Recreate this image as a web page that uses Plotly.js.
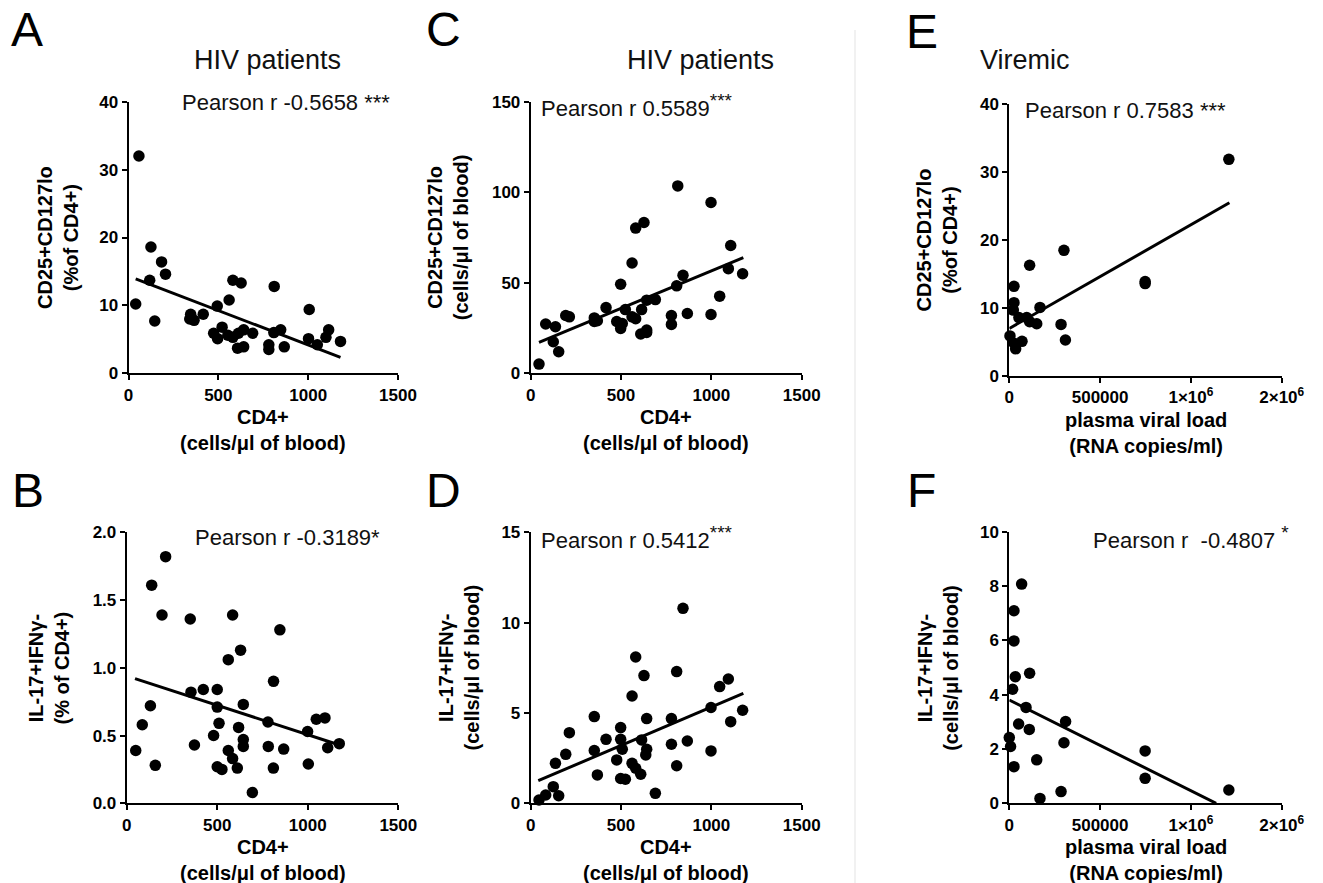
<!DOCTYPE html>
<html>
<head>
<meta charset="utf-8">
<script src="https://cdn.plot.ly/plotly-3.0.1.min.js"></script>
<style>
  html, body { margin: 0; padding: 0; background: #fff; }
  #chart { width: 1323px; height: 883px; }
</style>
</head>
<body>
<div id="chart"></div>
<script>
// ---- Data: HIV patients (CD4+ count) ----
const cd4A = [58, 40, 125, 118, 146, 184, 206, 346, 341, 365, 416, 494, 474, 496, 521, 560, 553, 581, 581, 627, 612, 641, 607, 641, 691, 781, 781, 811, 809, 847, 867, 1006, 1002, 1051, 1099, 1114, 1180];
const tregPctA = [32.0, 10.2, 18.6, 13.7, 7.7, 16.4, 14.6, 8.7, 8.0, 7.8, 8.7, 9.9, 5.9, 5.1, 6.8, 10.8, 5.6, 13.7, 5.3, 13.3, 5.9, 6.4, 3.7, 3.9, 5.9, 4.2, 3.5, 12.8, 6.0, 6.4, 3.9, 9.4, 5.1, 4.2, 5.3, 6.4, 4.7];

const cd4B = [50, 86, 131, 138, 158, 195, 215, 351, 355, 374, 423, 480, 500, 500, 500, 510, 526, 561, 561, 585, 585, 611, 618, 629, 644, 644, 644, 694, 780, 782, 811, 810, 846, 867, 999, 1003, 1047, 1095, 1110, 1174];
const th17PctB = [0.39, 0.58, 0.72, 1.61, 0.28, 1.39, 1.82, 1.36, 0.82, 0.43, 0.84, 0.50, 0.84, 0.71, 0.27, 0.59, 0.25, 1.06, 0.39, 1.39, 0.33, 0.26, 0.56, 1.13, 0.73, 0.47, 0.42, 0.08, 0.60, 0.42, 0.90, 0.26, 1.28, 0.40, 0.53, 0.29, 0.62, 0.63, 0.41, 0.44];

const cd4C = [46, 83, 137, 125, 155, 194, 214, 352, 352, 369, 417, 476, 498, 507, 498, 524, 561, 561, 581, 581, 614, 627, 609, 642, 642, 642, 690, 779, 779, 808, 814, 843, 867, 998, 998, 1046, 1094, 1107, 1173];
const tregAbsC = [5.1, 27.2, 25.7, 17.4, 11.9, 31.9, 31.2, 30.6, 28.6, 29.0, 36.3, 28.6, 49.2, 27.5, 24.8, 35.2, 60.9, 31.2, 80.2, 30.1, 35.2, 83.3, 21.7, 23.9, 22.6, 40.4, 40.7, 31.9, 27.0, 48.3, 103.5, 54.1, 33.0, 94.3, 32.5, 42.6, 57.8, 70.6, 55.0];

const cd4D = [46, 83, 125, 137, 155, 194, 214, 352, 352, 369, 417, 476, 498, 498, 507, 498, 524, 561, 561, 581, 581, 609, 614, 627, 642, 642, 637, 690, 779, 779, 808, 808, 843, 867, 998, 998, 1046, 1094, 1107, 1173];
const th17AbsD = [0.18, 0.46, 0.92, 2.21, 0.42, 2.71, 3.91, 4.80, 2.92, 1.57, 3.54, 2.40, 4.19, 3.54, 2.99, 1.37, 1.33, 5.94, 2.21, 8.10, 1.94, 1.61, 3.51, 7.07, 4.69, 2.99, 2.68, 0.55, 4.69, 3.27, 7.29, 2.08, 10.79, 3.45, 5.30, 2.90, 6.46, 6.88, 4.52, 5.15];

// ---- Data: viremic patients (plasma viral load) ----
const vlE = [3700, 22000, 25700, 25700, 27600, 35000, 53000, 70000, 96000, 112000, 112000, 151000, 169000, 285000, 301000, 309000, 748000, 748000, 1209000];
const tregPctE = [5.9, 9.7, 10.8, 13.2, 4.8, 4.0, 8.6, 5.1, 8.6, 16.3, 8.0, 7.7, 10.1, 7.6, 18.5, 5.3, 13.6, 13.9, 31.9];

const vlF = [0, 7000, 18400, 25700, 25700, 25700, 33000, 51500, 68000, 92000, 110000, 112000, 151000, 169000, 285000, 301000, 310000, 748000, 748000, 1209000];
const th17AbsF = [2.42, 2.09, 4.20, 7.09, 5.98, 1.35, 4.66, 2.92, 8.07, 3.53, 2.72, 4.79, 1.60, 0.18, 0.43, 2.23, 3.01, 1.93, 0.92, 0.49];

// ---- Linear regression lines (end points) ----
const fitA = { x: [40, 1180], y: [13.9, 2.35] };
const fitB = { x: [46, 1175], y: [0.92, 0.43] };
const fitC = { x: [46, 1177], y: [17.1, 63.9] };
const fitD = { x: [42, 1177], y: [1.25, 6.09] };
const fitE = { x: [0, 1212000], y: [7.0, 25.5] };
const fitF = { x: [0, 1139000], y: [3.8, 0] };

// ---- Tick values and labels ----
const cd4Ticks = [0, 500, 1000, 1500];
const cd4TickText = ['0', '500', '1000', '1500'];
const vlTicks = [0, 500000, 1000000, 1500000];
const vlTickText = ['0', '500000', '1×10<sup>6</sup>', '2×10<sup>6</sup>'];
const tregPctTicks = [0, 10, 20, 30, 40];
const th17PctTicks = [0, 0.5, 1.0, 1.5, 2.0];
const th17PctTickText = ['0.0', '0.5', '1.0', '1.5', '2.0'];
const tregAbsTicks = [0, 50, 100, 150];
const th17AbsTicks = [0, 5, 10, 15];
const th17AbsFTicks = [0, 2, 4, 6, 8, 10];

// ---- Text ----
const pearsonLabels = {
  A: 'Pearson r -0.5658 ***',
  B: 'Pearson r -0.3189*',
  C: 'Pearson r 0.5589<sup><span style="font-size:19px">***</span></sup>',
  D: 'Pearson r 0.5412<sup><span style="font-size:19px">***</span></sup>',
  E: 'Pearson r 0.7583 ***',
  F: 'Pearson r  -0.4807 <sup><span style="font-size:19px">*</span></sup>'
};
const cd4Title = ['CD4+', '(cells/μl of blood)'];
const vlTitle = ['plasma viral load', '(RNA copies/ml)'];
const tregPctTitle = ['CD25+CD127lo', '(%of CD4+)'];
const tregAbsTitle = ['CD25+CD127lo', '(cells/μl of blood)'];
const th17PctTitle = ['IL-17+IFNγ-', '(% of CD4+)'];
const th17AbsTitle = ['IL-17+IFNγ-', '(cells/μl of blood)'];

// ---- Layout helpers (pixel -> paper) ----
const W = 1323, H = 883;
const FONT = 'Liberation Sans';
const px = v => v / W;
const py = v => 1 - v / H;
const twoLines = lines => lines.join('<br>');

// panel boxes in pixels: [left, right, top, bottom]
const panels = [
  { key: 'A', box: [128.5, 398, 101.7, 373.3], x: cd4A, y: tregPctA, fit: fitA, xr: [0, 1500], yr: [0, 40],
    xt: cd4Ticks, xtt: cd4TickText, yt: tregPctTicks, ytt: tregPctTicks.map(String),
    xTitle: cd4Title, yTitle: tregPctTitle, yTitleOff: 70, pear: [180, 103] },
  { key: 'B', box: [126.7, 398.3, 532.3, 803.3], x: cd4B, y: th17PctB, fit: fitB, xr: [0, 1500], yr: [0, 2],
    xt: cd4Ticks, xtt: cd4TickText, yt: th17PctTicks, ytt: th17PctTickText,
    xTitle: cd4Title, yTitle: th17PctTitle, yTitleOff: 78, pear: [193, 537] },
  { key: 'C', box: [530.7, 801.7, 101.7, 373.3], x: cd4C, y: tregAbsC, fit: fitC, xr: [0, 1500], yr: [0, 150],
    xt: cd4Ticks, xtt: cd4TickText, yt: tregAbsTicks, ytt: tregAbsTicks.map(String),
    xTitle: cd4Title, yTitle: tregAbsTitle, yTitleOff: 82, pear: [539, 105] },
  { key: 'D', box: [530.7, 801.7, 532.3, 803.3], x: cd4D, y: th17AbsD, fit: fitD, xr: [0, 1500], yr: [0, 15],
    xt: cd4Ticks, xtt: cd4TickText, yt: th17AbsTicks, ytt: th17AbsTicks.map(String),
    xTitle: cd4Title, yTitle: th17AbsTitle, yTitleOff: 72, pear: [539, 537] },
  { key: 'E', box: [1009.3, 1281.7, 104.3, 376], x: vlE, y: tregPctE, fit: fitE, xr: [0, 1500000], yr: [0, 40],
    xt: vlTicks, xtt: vlTickText, yt: tregPctTicks, ytt: tregPctTicks.map(String),
    xTitle: vlTitle, yTitle: tregPctTitle, yTitleOff: 72, pear: [1023, 110] },
  { key: 'F', box: [1009.3, 1281.7, 531.7, 803.3], x: vlF, y: th17AbsF, fit: fitF, xr: [0, 1500000], yr: [0, 10],
    xt: vlTicks, xtt: vlTickText, yt: th17AbsFTicks, ytt: th17AbsFTicks.map(String),
    xTitle: vlTitle, yTitle: th17AbsTitle, yTitleOff: 72, pear: [1091, 537] }
];

function makeAxis(domain, anchor, range, tickvals, ticktext) {
  return {
    domain: domain, anchor: anchor, range: range,
    showgrid: false, zeroline: false, showline: true, linecolor: '#000', linewidth: 2,
    ticks: 'outside', ticklen: 5, tickwidth: 2, tickcolor: '#000',
    tickmode: 'array', tickvals: tickvals, ticktext: ticktext,
    tickfont: { family: FONT, size: 17, color: '#000', weight: 700 }
  };
}

const traces = [];
const layout = {
  width: W, height: H,
  margin: { l: 0, r: 0, t: 0, b: 0 },
  paper_bgcolor: '#fff', plot_bgcolor: '#fff',
  showlegend: false,
  annotations: [],
  shapes: [
    // thin divider between the two patient groups
    { type: 'line', xref: 'paper', yref: 'paper', x0: px(855), x1: px(855), y0: py(30), y1: py(883),
      line: { color: '#e3e3e3', width: 1 } }
  ]
};

panels.forEach((p, i) => {
  const n = i === 0 ? '' : String(i + 1);
  const xa = 'x' + n, ya = 'y' + n;
  const [l, r, t, b] = p.box;

  layout['xaxis' + n] = makeAxis([px(l), px(r)], ya, p.xr, p.xt, p.xtt);
  layout['yaxis' + n] = makeAxis([py(b), py(t)], xa, p.yr, p.yt, p.ytt);

  // regression line
  traces.push({ type: 'scatter', mode: 'lines', x: p.fit.x, y: p.fit.y, xaxis: xa, yaxis: ya,
    line: { color: '#000', width: 3 }, hoverinfo: 'skip' });
  // patients
  traces.push({ type: 'scatter', mode: 'markers', x: p.x, y: p.y, xaxis: xa, yaxis: ya,
    cliponaxis: false, marker: { color: '#000', size: 11.5, line: { width: 0 } } });

  // Pearson label
  layout.annotations.push({ xref: 'paper', yref: 'paper', x: px(p.pear[0]), y: py(p.pear[1]),
    xanchor: 'left', yanchor: 'middle', showarrow: false, text: pearsonLabels[p.key],
    font: { family: FONT, size: 22, color: '#111' } });
  // x-axis title
  layout.annotations.push({ xref: 'paper', yref: 'paper', x: px((l + r) / 2), y: py(b + 57),
    xanchor: 'center', yanchor: 'middle', showarrow: false, text: twoLines(p.xTitle),
    font: { family: FONT, size: 20, color: '#000', weight: 700 } });
  // y-axis title
  layout.annotations.push({ xref: 'paper', yref: 'paper', x: px(l - p.yTitleOff), y: py((t + b) / 2),
    xanchor: 'center', yanchor: 'middle', showarrow: false, textangle: -90, text: twoLines(p.yTitle),
    font: { family: FONT, size: 20, color: '#000', weight: 700 } });
});

// panel letters
const letters = [['A', 27, 30], ['C', 443, 30], ['E', 922, 32], ['B', 28, 490], ['D', 443, 490], ['F', 921, 490]];
letters.forEach(([txt, x, y]) => layout.annotations.push({ xref: 'paper', yref: 'paper', x: px(x), y: py(y),
  xanchor: 'center', yanchor: 'middle', showarrow: false, text: txt, font: { family: FONT, size: 48, color: '#000' } }));

// group headings
const headings = [['HIV patients', 267, 60], ['HIV patients', 700, 60], ['Viremic', 1025, 60]];
headings.forEach(([txt, x, y]) => layout.annotations.push({ xref: 'paper', yref: 'paper', x: px(x), y: py(y),
  xanchor: 'center', yanchor: 'middle', showarrow: false, text: txt, font: { family: FONT, size: 27, color: '#111' } }));

Plotly.newPlot('chart', traces, layout, { displayModeBar: false });
</script>
</body>
</html>
